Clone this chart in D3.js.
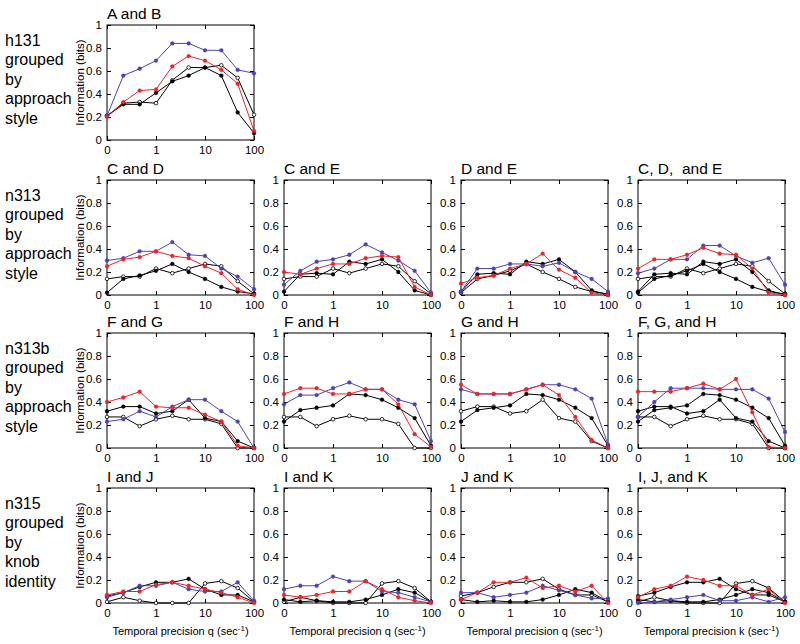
<!DOCTYPE html>
<html>
<head>
<meta charset="utf-8">
<script src="https://cdn.jsdelivr.net/npm/d3@7"></script>
<style>
  body { margin: 0; background: #fff; }
  svg { display: block; font-family: "Liberation Sans", Arial, Helvetica, sans-serif; }
</style>
</head>
<body>
<svg id="chart" width="800" height="644"></svg>
<script>
// ---------- DATA ----------
// precision values (first point plotted at the "0" position)
const qValues = [0.1, 0.2154, 0.4642, 1, 2.154, 4.642, 10, 21.54, 46.42, 100];
const xTickValues = [0.1, 1, 10, 100];
const xTickLabels = ["0", "1", "10", "100"];
const yTickValues = [0, 0.2, 0.4, 0.6, 0.8, 1];

const rowLabels = [
  ["h131", "grouped", "by", "approach", "style"],
  ["n313", "grouped", "by", "approach", "style"],
  ["n313b", "grouped", "by", "approach", "style"],
  ["n315", "grouped", "by", "knob", "identity"]
];

const panelTitles = [
  ["A and B"],
  ["C and D", "C and E", "D and E", "C, D,  and E"],
  ["F and G", "F and H", "G and H", "F, G, and H"],
  ["I and J", "I and K", "J and K", "I, J, and K"]
];

// Row 1: h131
const abBlue        = [0.21, 0.56, 0.62, 0.69, 0.84, 0.84, 0.78, 0.78, 0.61, 0.58];
const abRed         = [0.20, 0.33, 0.43, 0.44, 0.64, 0.73, 0.69, 0.61, 0.49, 0.08];
const abBlackFilled = [0.21, 0.31, 0.31, 0.41, 0.51, 0.56, 0.63, 0.56, 0.24, 0.06];
const abBlackOpen   = [0.21, 0.32, 0.33, 0.32, 0.52, 0.63, 0.63, 0.65, 0.54, 0.22];

// Row 2: n313 (black traces)
const n313Black1 = [0.02, 0.14, 0.17, 0.21, 0.27, 0.20, 0.14, 0.07, 0.03, 0.01];
const n313Black2 = [0.03, 0.18, 0.19, 0.18, 0.29, 0.27, 0.31, 0.20, 0.04, 0.00];
const n313Black3 = [0.14, 0.16, 0.16, 0.23, 0.19, 0.23, 0.27, 0.25, 0.12, 0.01];
const cdBlue  = [0.30, 0.32, 0.38, 0.38, 0.46, 0.35, 0.34, 0.23, 0.16, 0.05];
const cdRed   = [0.25, 0.31, 0.33, 0.38, 0.34, 0.32, 0.25, 0.19, 0.05, 0.00];
const ceBlue  = [0.09, 0.21, 0.29, 0.31, 0.35, 0.44, 0.37, 0.30, 0.21, 0.02];
const ceRed   = [0.20, 0.18, 0.23, 0.27, 0.27, 0.32, 0.34, 0.33, 0.07, 0.00];
const deBlue  = [0.03, 0.23, 0.23, 0.27, 0.27, 0.25, 0.28, 0.20, 0.14, 0.03];
const deRed   = [0.10, 0.15, 0.17, 0.23, 0.27, 0.36, 0.22, 0.15, 0.02, 0.00];
const cdeBlue = [0.19, 0.23, 0.31, 0.31, 0.43, 0.43, 0.34, 0.28, 0.32, 0.09];
const cdeRed  = [0.23, 0.31, 0.31, 0.35, 0.41, 0.36, 0.35, 0.23, 0.02, 0.00];

// Row 3: n313b (black traces)
const n313bBlack1 = [0.32, 0.36, 0.36, 0.30, 0.32, 0.42, 0.26, 0.23, 0.06, 0.00];
const n313bBlack2 = [0.23, 0.33, 0.35, 0.37, 0.47, 0.46, 0.42, 0.35, 0.26, 0.02];
const n313bBlack3 = [0.27, 0.27, 0.19, 0.25, 0.28, 0.25, 0.25, 0.21, 0.00, 0.00];
const fgBlue  = [0.23, 0.25, 0.32, 0.27, 0.36, 0.42, 0.42, 0.32, 0.23, 0.00];
const fgRed   = [0.40, 0.44, 0.49, 0.36, 0.35, 0.35, 0.29, 0.23, 0.02, 0.00];
const fhBlue  = [0.38, 0.46, 0.46, 0.52, 0.57, 0.51, 0.51, 0.42, 0.38, 0.06];
const fhRed   = [0.47, 0.52, 0.52, 0.47, 0.47, 0.51, 0.51, 0.38, 0.12, 0.01];
const ghBlue  = [0.51, 0.47, 0.47, 0.47, 0.51, 0.55, 0.55, 0.51, 0.43, 0.03];
const ghRed   = [0.55, 0.47, 0.47, 0.47, 0.51, 0.55, 0.46, 0.27, 0.07, 0.00];
const fghBlue = [0.27, 0.40, 0.52, 0.52, 0.52, 0.51, 0.51, 0.51, 0.43, 0.14];
const fghRed  = [0.49, 0.49, 0.49, 0.52, 0.56, 0.51, 0.60, 0.31, 0.01, 0.00];

// Row 4: n315 (black traces)
const n315Black1 = [0.06, 0.09, 0.14, 0.18, 0.18, 0.21, 0.12, 0.07, 0.07, 0.01];
const n315Black2 = [0.01, 0.05, 0.02, 0.00, 0.00, 0.00, 0.17, 0.19, 0.13, 0.01];
const n315Black3 = [0.03, 0.01, 0.02, 0.01, 0.01, 0.03, 0.07, 0.12, 0.09, 0.01];
const ijBlue  = [0.05, 0.09, 0.15, 0.15, 0.18, 0.12, 0.10, 0.10, 0.18, 0.02];
const ijRed   = [0.07, 0.10, 0.10, 0.16, 0.18, 0.15, 0.12, 0.09, 0.05, 0.00];
const ikBlue  = [0.12, 0.15, 0.15, 0.23, 0.19, 0.19, 0.10, 0.09, 0.05, 0.01];
const ikRed   = [0.07, 0.05, 0.07, 0.10, 0.10, 0.19, 0.12, 0.05, 0.02, 0.00];
const jkBlue  = [0.09, 0.09, 0.05, 0.07, 0.09, 0.15, 0.11, 0.07, 0.04, 0.04];
const jkRed   = [0.03, 0.09, 0.18, 0.18, 0.22, 0.13, 0.15, 0.10, 0.15, 0.00];
const ijkBlue = [0.00, 0.01, 0.03, 0.05, 0.07, 0.02, 0.02, 0.05, 0.01, 0.05];
const ijkRed  = [0.05, 0.12, 0.15, 0.23, 0.20, 0.15, 0.15, 0.07, 0.12, 0.00];

// panel table built from the arrays above
const panels = [
  { r: 0, c: 0, s: [[abBlackOpen, "open"], [abBlackFilled, "black"], [abBlue, "blue"], [abRed, "red"]] },
  { r: 1, c: 0, s: [[n313Black3, "open"], [n313Black1, "black"], [cdBlue, "blue"], [cdRed, "red"]] },
  { r: 1, c: 1, s: [[n313Black3, "open"], [n313Black2, "black"], [ceBlue, "blue"], [ceRed, "red"]] },
  { r: 1, c: 2, s: [[n313Black1, "open"], [n313Black2, "black"], [deBlue, "blue"], [deRed, "red"]] },
  { r: 1, c: 3, s: [[n313Black3, "open"], [n313Black1, "black"], [n313Black2, "black"], [cdeBlue, "blue"], [cdeRed, "red"]] },
  { r: 2, c: 0, s: [[n313bBlack3, "open"], [n313bBlack1, "black"], [fgBlue, "blue"], [fgRed, "red"]] },
  { r: 2, c: 1, s: [[n313bBlack3, "open"], [n313bBlack2, "black"], [fhBlue, "blue"], [fhRed, "red"]] },
  { r: 2, c: 2, s: [[n313bBlack1, "open"], [n313bBlack2, "black"], [ghBlue, "blue"], [ghRed, "red"]] },
  { r: 2, c: 3, s: [[n313bBlack3, "open"], [n313bBlack1, "black"], [n313bBlack2, "black"], [fghBlue, "blue"], [fghRed, "red"]] },
  { r: 3, c: 0, s: [[n315Black2, "open"], [n315Black1, "black"], [ijBlue, "blue"], [ijRed, "red"]] },
  { r: 3, c: 1, s: [[n315Black2, "open"], [n315Black3, "black"], [ikBlue, "blue"], [ikRed, "red"]] },
  { r: 3, c: 2, s: [[n315Black1, "open"], [n315Black3, "black"], [jkBlue, "blue"], [jkRed, "red"]] },
  { r: 3, c: 3, s: [[n315Black2, "open"], [n315Black1, "black"], [n315Black3, "black"], [ijkBlue, "blue"], [ijkRed, "red"]] }
];

// ---------- LAYOUT ----------
const colLeft = [107, 284, 461, 638];
const rowTop = [25, 180, 333, 488];
const pw = 147, ph = 115;
const colors = { blue: "#4b44b2", red: "#e8262b", black: "#000", open: "#000" };

const svg = d3.select("#chart");
const x = d3.scaleLog().domain([0.1, 100]).range([0, pw]);
const y = d3.scaleLinear().domain([0, 1]).range([ph, 0]);
const yFmt = d => (d === 0 ? "0" : d === 1 ? "1" : d3.format(".1f")(d));
const xFmt = d => xTickLabels[xTickValues.indexOf(d)];

// row labels
rowLabels.forEach((lines, r) => {
  const t = svg.append("text").attr("x", 5).attr("y", rowTop[r] + 21)
    .attr("font-size", 16).attr("fill", "#000");
  lines.forEach((ln, i) => {
    t.append("tspan").attr("x", 5).attr("dy", i === 0 ? 0 : 19.4).text(ln);
  });
});

panels.forEach(p => {
  const g = svg.append("g").attr("transform", `translate(${colLeft[p.c]},${rowTop[p.r]})`);

  // title
  g.append("text").attr("x", 0).attr("y", -6).attr("font-size", 15.5)
    .style("white-space", "pre").attr("fill", "#000").text(panelTitles[p.r][p.c]);

  // axes (MATLAB-style inward ticks on all sides)
  const styleAxis = sel => {
    sel.select(".domain").remove();
    sel.selectAll(".tick line").attr("stroke", "#000");
    sel.selectAll(".tick text").attr("font-size", 11.5).attr("fill", "#000")
      .attr("font-family", '"Liberation Sans", Arial, sans-serif');
  };
  g.append("g").call(d3.axisLeft(y).tickValues(yTickValues).tickFormat(yFmt).tickSize(-4).tickPadding(5)).call(styleAxis);
  g.append("g").attr("transform", `translate(${pw},0)`)
    .call(d3.axisRight(y).tickValues(yTickValues).tickFormat("").tickSize(-4)).call(styleAxis);
  g.append("g").attr("transform", `translate(0,${ph})`)
    .call(d3.axisBottom(x).tickValues(xTickValues).tickFormat(xFmt).tickSize(-4).tickPadding(6)).call(styleAxis);
  g.append("g").call(d3.axisTop(x).tickValues(xTickValues).tickFormat("").tickSize(-4)).call(styleAxis);

  g.append("rect").attr("width", pw).attr("height", ph)
    .attr("fill", "none").attr("stroke", "#000").attr("stroke-width", 1);

  // series
  const line = d3.line().x((d, i) => x(qValues[i])).y(d => y(d));
  p.s.forEach(([vals, kind]) => {
    g.append("path").datum(vals).attr("d", line)
      .attr("fill", "none").attr("stroke", colors[kind]).attr("stroke-width", 1);
    g.selectAll(null).data(vals).enter().append("circle")
      .attr("cx", (d, i) => x(qValues[i])).attr("cy", d => y(d))
      .attr("r", kind === "open" ? 1.8 : 1.9)
      .attr("fill", kind === "open" ? "#fff" : colors[kind])
      .attr("stroke", colors[kind]).attr("stroke-width", kind === "open" ? 0.8 : 0.4);
  });

  // y label
  if (p.c === 0) {
    g.append("text").attr("transform", `translate(-23,${ph / 2}) rotate(-90)`)
      .attr("text-anchor", "middle").attr("font-size", 11.5).attr("fill", "#000")
      .text("Information (bits)");
  }
  // x label
  if (p.r === 3) {
    const t = g.append("text").attr("x", pw / 2).attr("y", ph + 32)
      .attr("text-anchor", "middle").attr("font-size", 11).attr("fill", "#000");
    t.append("tspan").text(`Temporal precision ${p.c === 3 ? "k" : "q"} (sec`);
    t.append("tspan").attr("dy", -4).attr("font-size", 8).text("-1");
    t.append("tspan").attr("dy", 4).text(")");
  }
});
</script>
</body>
</html>
